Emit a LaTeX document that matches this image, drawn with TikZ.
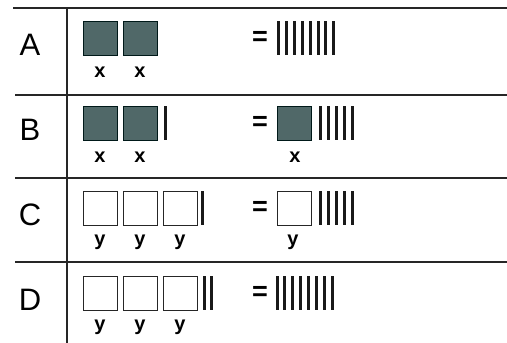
\documentclass[tikz,border=0pt]{standalone}
\usepackage{fontspec}
\setmainfont{Liberation Sans}
\begin{document}
\begin{tikzpicture}[x=1pt,y=-1pt,
  rule/.style={line width=1.6pt,draw=black!85},
  gsq/.style={draw=black!80!teal,line width=1pt,fill={rgb,255:red,80;green,104;blue,104},minimum size=34pt,inner sep=0pt,anchor=north west},
  wsq/.style={draw=black!85,line width=1.1pt,fill=white,minimum size=34pt,inner sep=0pt,anchor=north west},
  bar/.style={fill=black!90,draw=none,minimum width=3pt,minimum height=34pt,inner sep=0pt,anchor=north},
  rowlab/.style={font=\fontsize{31}{31}\selectfont,anchor=base,inner sep=0pt},
  varlab/.style={font=\bfseries\fontsize{20}{20}\selectfont,anchor=base,inner sep=0pt},
  eq/.style={font=\bfseries\fontsize{27}{27}\selectfont,inner sep=0pt}]
\useasboundingbox (0,0) rectangle (507,343);
% grid
\coordinate (tl) at (13,8); \coordinate (tr) at (507,8);
\coordinate (bl) at (15,95); \coordinate (br) at (507,95);
\coordinate (cl) at (15,178); \coordinate (cr) at (507,178);
\coordinate (dl) at (15,262); \coordinate (dr) at (507,262);
\coordinate (vt) at (67,8); \coordinate (vb) at (67,343);
\draw[rule] (tl) -- (tr);
\draw[rule] (bl) -- (br);
\draw[rule] (cl) -- (cr);
\draw[rule] (dl) -- (dr);
\draw[rule,line width=1.4pt] (vt) -- (vb);
% row labels
\node[rowlab] (LA) at (30,55) {A};
\node[rowlab] (LB) at (30,140) {B};
\node[rowlab] (LC) at (30,225) {C};
\node[rowlab] (LD) at (30,310) {D};
% Row A
\node[gsq] (a1) at (83,21) {};
\node[gsq] (a2) at (123,21) {};
\node[varlab] (ax1) at (100,77) {x};
\node[varlab] (ax2) at (140,77) {x};
\node[eq] (aeq) at (260,38) {=};
\foreach \i in {0,...,7} \node[bar] (ab\i) at (278.5+7.9*\i,21) {};
% Row B
\node[gsq] (b1) at (83,106) {};
\node[gsq] (b2) at (123,106) {};
\node[bar] (bb) at (165.5,106) {};
\node[varlab] (bx1) at (100,162) {x};
\node[varlab] (bx2) at (140,162) {x};
\node[eq] (beq) at (260,123) {=};
\node[gsq] (b3) at (277,106) {};
\node[varlab] (bx3) at (295,162) {x};
\foreach \i in {0,...,4} \node[bar] (bbr\i) at (320+8*\i,106) {};
% Row C
\node[wsq] (c1) at (83,191) {};
\node[wsq] (c2) at (123,191) {};
\node[wsq] (c3) at (163,191) {};
\node[bar] (cb) at (202.5,191) {};
\node[varlab] (cy1) at (100,245) {y};
\node[varlab] (cy2) at (140,245) {y};
\node[varlab] (cy3) at (180,245) {y};
\node[eq] (ceq) at (260,208) {=};
\node[wsq] (c4) at (277,191) {};
\node[varlab] (cy4) at (293,245) {y};
\foreach \i in {0,...,4} \node[bar] (cbr\i) at (320+8*\i,191) {};
% Row D
\node[wsq] (d1) at (83,276) {};
\node[wsq] (d2) at (123,276) {};
\node[wsq] (d3) at (163,276) {};
\node[bar] (db1) at (204,276) {};
\node[bar] (db2) at (211,276) {};
\node[varlab] (dy1) at (100,330) {y};
\node[varlab] (dy2) at (140,330) {y};
\node[varlab] (dy3) at (180,330) {y};
\node[eq] (deq) at (260,293) {=};
\foreach \i in {0,...,7} \node[bar] (dbr\i) at (277+7.9*\i,276) {};
\end{tikzpicture}
\end{document}
